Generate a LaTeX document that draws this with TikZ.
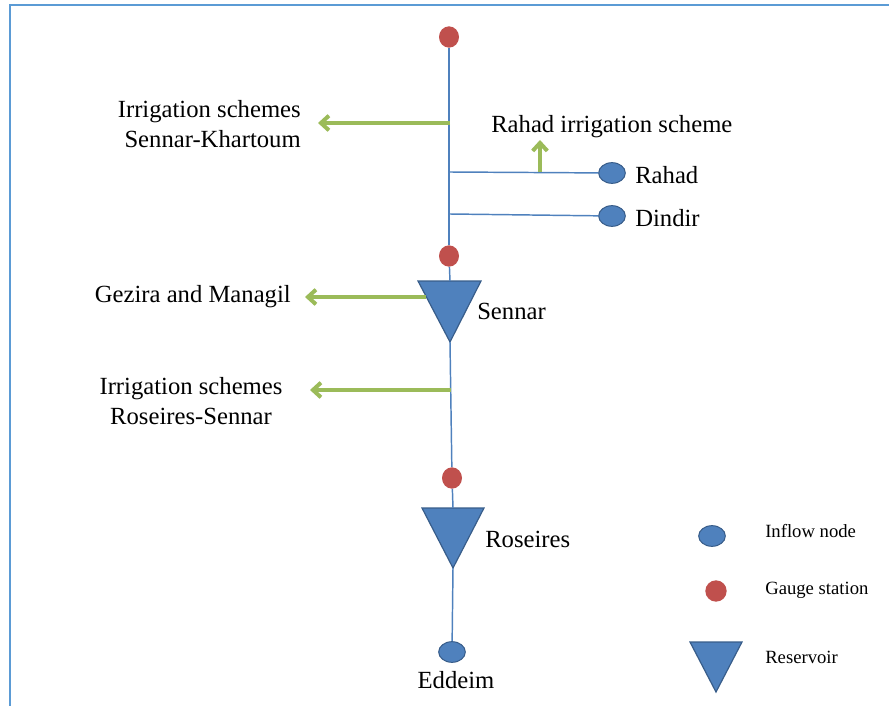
\documentclass[tikz,border=0pt]{standalone}
\usepackage{fontspec}
\setmainfont{Liberation Serif}
\usetikzlibrary{arrows.meta,shapes.geometric}
\definecolor{nodeblue}{HTML}{4F81BD}
\definecolor{edgeblue}{HTML}{385D8A}
\definecolor{gaugered}{HTML}{C0504D}
\definecolor{arrowgreen}{HTML}{9BBB59}
\definecolor{frameblue}{HTML}{5B9BD5}
\begin{document}
\begin{tikzpicture}[x=0.75pt,y=-0.75pt,
  river/.style={draw=nodeblue,line width=1.1pt},
  gauge/.style={ellipse,fill=gaugered,minimum width=15pt,minimum height=16pt,inner sep=0pt},
  inflow/.style={ellipse,fill=nodeblue,draw=edgeblue,line width=0.75pt,minimum width=20pt,minimum height=15.5pt,inner sep=0pt},
  withdraw/.style={draw=arrowgreen,line width=3pt,-{Straight Barb[length=6pt,width=11pt,line width=3pt]}},
  lbl/.style={font=\fontsize{18.5}{22}\selectfont,inner sep=0pt},
  leg/.style={font=\fontsize{14}{17}\selectfont,inner sep=0pt,anchor=west},
  resv/.style={fill=nodeblue,draw=edgeblue,line width=0.9pt,line join=miter}
]
\useasboundingbox (0,0) rectangle (889,706);
% frame
\draw[frameblue,line width=1.5pt] (10,706) -- (10,5) -- (889,5);

% gauges
\node[gauge] (g1) at (449,37) {};
\node[gauge] (g2) at (449,256) {};
\node[gauge] (g3) at (452,478) {};

% reservoirs
\draw[resv] (418,281) -- (481,281) -- (450,342) -- cycle;
\coordinate (sTop) at (450,281);
\coordinate (sBot) at (450,342);
\draw[resv] (422,508) -- (484,508) -- (453,568) -- cycle;
\coordinate (rTop) at (453,508);
\coordinate (rBot) at (453,568);

% inflow nodes
\node[inflow] (rahad) at (612,173) {};
\node[inflow] (dindir) at (612,216) {};
\node[inflow] (eddeim) at (452,652) {};

% river links
\coordinate (jr) at (450,172);
\coordinate (jd) at (450,214);
\coordinate (w1) at (450,123);
\coordinate (w3) at (451,390);
\draw[river] (g1) -- (g2);
\draw[river] (g2) -- (sTop);
\draw[river] (sBot) -- (g3);
\draw[river] (g3) -- (rTop);
\draw[river] (rBot) -- (eddeim);
\draw[river] (jr) -- (rahad);
\draw[river] (jd) -- (dindir);

% withdrawals
\coordinate (a1) at (318,123);
\coordinate (ru) at (540,172);
\coordinate (ra) at (540,140);
\coordinate (w2) at (426,297);
\coordinate (a2) at (305,297);
\coordinate (a3) at (310,390);
\draw[withdraw] (w1) -- (a1);
\draw[withdraw] (ru) -- (ra);
\draw[withdraw] (w2) -- (a2);
\draw[withdraw] (w3) -- (a3);

% labels
\node[lbl,align=right,anchor=east] (t1) at (301,124) {Irrigation schemes\\Sennar-Khartoum};
\node[lbl,anchor=west] (t2) at (491,127) {Rahad irrigation scheme};
\node[lbl,anchor=west] (t3) at (635,175) {Rahad};
\node[lbl,anchor=west] (t4) at (635,218) {Dindir};
\node[lbl,anchor=east] (t5) at (291,297) {Gezira and Managil};
\node[lbl,anchor=west] (t6) at (477,311) {Sennar};
\node[lbl,align=center] (t7) at (191,401) {Irrigation schemes\\Roseires-Sennar};
\node[lbl,anchor=west] (t8) at (485,539) {Roseires};
\node[lbl] (t9) at (456,680) {Eddeim};

% legend
\node[inflow] (li) at (712,536) {};
\node[gauge,minimum width=16pt,minimum height=16pt] (lg) at (716,591) {};
\draw[resv] (690,642) -- (742,642) -- (716,692) -- cycle;
\node[leg] (lt1) at (765,531) {Inflow node};
\node[leg] (lt2) at (765,590) {Gauge station};
\node[leg] (lt3) at (765,657) {Reservoir};
\end{tikzpicture}
\end{document}
